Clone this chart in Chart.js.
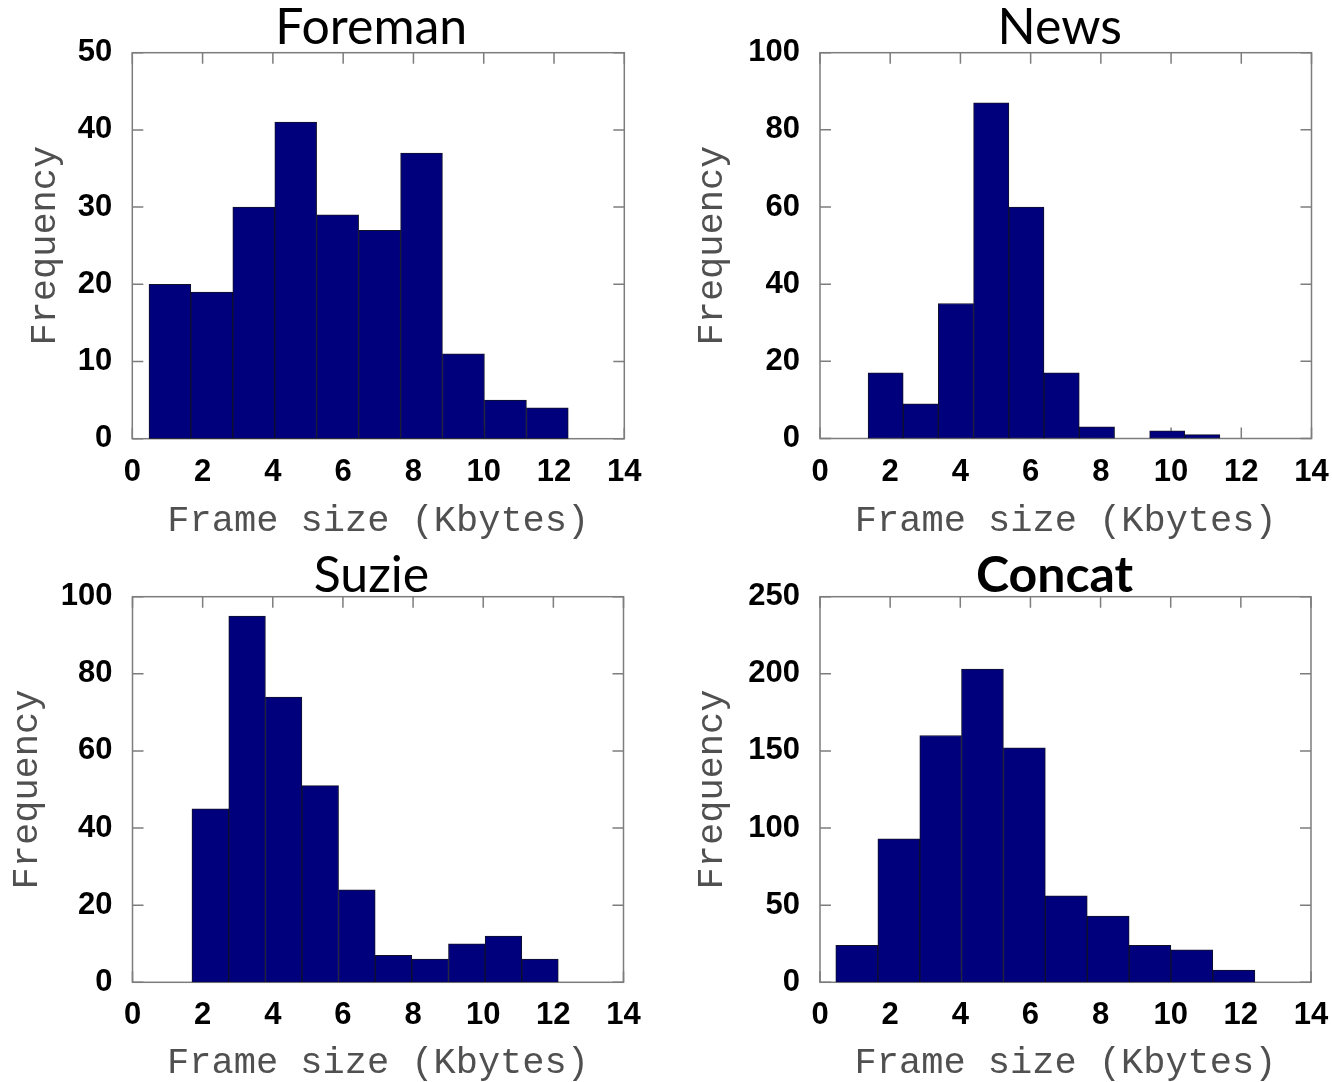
<!DOCTYPE html>
<html>
<head>
<meta charset="utf-8">
<script src="https://cdn.jsdelivr.net/npm/chart.js@4.4.1/dist/chart.umd.min.js"></script>
<style>
  html, body { margin: 0; padding: 0; background: #fff; }
  body { width: 1332px; height: 1082px; position: relative; overflow: hidden; }
  canvas { position: absolute; }
</style>
</head>
<body>
<canvas id="foreman" width="666" height="545" style="left:0;top:0"></canvas>
<canvas id="news" width="666" height="545" style="left:666px;top:0"></canvas>
<canvas id="suzie" width="666" height="545" style="left:0;top:545px"></canvas>
<canvas id="concat" width="666" height="545" style="left:666px;top:545px"></canvas>
<script>
// bin centres (Kbytes) and counts
const foremanBins = [1.07, 2.26, 3.46, 4.65, 5.84, 7.04, 8.23, 9.42, 10.62, 11.81];
const foremanCounts = [20, 19, 30, 41, 29, 27, 37, 11, 5, 4];

const newsBins = [1.87, 2.87, 3.87, 4.88, 5.88, 6.88, 7.89, 8.89, 9.89, 10.89];
const newsCounts = [17, 9, 35, 87, 60, 17, 3, 0, 2, 1];

const suzieBins = [2.22, 3.27, 4.31, 5.35, 6.40, 7.44, 8.49, 9.53, 10.58, 11.62];
const suzieCounts = [45, 95, 74, 51, 24, 7, 6, 10, 12, 6];

const concatBins = [1.05, 2.25, 3.44, 4.63, 5.83, 7.02, 8.22, 9.41, 10.60, 11.80];
const concatCounts = [24, 93, 160, 203, 152, 56, 43, 24, 21, 8];

const xRange = [0, 14];
const xStep = 2;
const yMaxes = { foreman: 50, news: 100, suzie: 100, concat: 250 };
const ySteps = { foreman: 10, news: 20, suzie: 20, concat: 50 };

const xLabel = 'Frame size (Kbytes)';
const yLabel = 'Frequency';

const tickFont = { family: 'Liberation Sans', weight: 'bold', size: 31 };

// frame box with inward ticks on all four sides (matlab look)
const boxTicks = {
  id: 'boxTicks',
  beforeDatasetsDraw(chart) {
    const { ctx, chartArea: a, scales: { x, y } } = chart;
    const len = 11;
    ctx.save();
    ctx.strokeStyle = '#7d7d7d';
    ctx.lineWidth = 1.5;
    ctx.beginPath();
    x.ticks.forEach(t => {
      const px = x.getPixelForValue(t.value);
      ctx.moveTo(px, a.bottom); ctx.lineTo(px, a.bottom - len);
      ctx.moveTo(px, a.top); ctx.lineTo(px, a.top + len);
    });
    y.ticks.forEach(t => {
      const py = y.getPixelForValue(t.value);
      ctx.moveTo(a.left, py); ctx.lineTo(a.left + len, py);
      ctx.moveTo(a.right, py); ctx.lineTo(a.right - len, py);
    });
    ctx.stroke();
    ctx.strokeRect(a.left, a.top, a.right - a.left, a.bottom - a.top);
    ctx.restore();
  }
};

const panelTitle = {
  id: 'panelTitle',
  afterDraw(chart, args, opts) {
    const { ctx, chartArea } = chart;
    ctx.save();
    ctx.font = opts.font;
    ctx.fillStyle = '#000';
    ctx.textAlign = 'center';
    ctx.textBaseline = 'alphabetic';
    ctx.fillText(opts.text, (chartArea.left + chartArea.right) / 2 + opts.shift, opts.baseline);
    ctx.restore();
  }
};

function drawHist(id, title, bins, counts, p) {
  const canvas = document.getElementById(id);
  const W = canvas.width, H = canvas.height;
  new Chart(canvas, {
    type: 'bar',
    data: {
      datasets: [{
        data: bins.map((b, i) => ({ x: b, y: counts[i] })),
        backgroundColor: '#00007c',
        borderColor: '#10102a',
        borderWidth: 1,
        borderSkipped: false,
        barThickness: 'flex',
        barPercentage: 1,
        categoryPercentage: 1
      }]
    },
    options: {
      responsive: false,
      animation: false,
      layout: { padding: { left: 0, top: p.top, right: W - p.right, bottom: 0 } },
      plugins: {
        legend: { display: false },
        tooltip: { enabled: false },
        panelTitle: { text: title, font: p.titleFont, shift: p.shift, baseline: p.baseline }
      },
      scales: {
        x: {
          type: 'linear',
          offset: false,
          min: xRange[0],
          max: xRange[1],
          grid: { display: false, drawTicks: false },
          border: { display: false },
          ticks: {
            stepSize: xStep,
            padding: 15,
            color: '#000',
            maxRotation: 0,
            font: tickFont
          },
          title: {
            display: true,
            text: xLabel,
            color: '#505050',
            padding: { top: 0, bottom: p.xTitlePad },
            font: { family: 'Liberation Mono', size: 37 }
          },
          afterFit: s => {
            s.height = H - p.bottom;
            s.paddingLeft = 0;
            s.paddingRight = 0;
          }
        },
        y: {
          min: 0,
          max: yMaxes[id],
          grid: { display: false, drawTicks: false },
          border: { display: false },
          ticks: {
            stepSize: ySteps[id],
            padding: 20,
            color: '#000',
            font: tickFont
          },
          title: {
            display: true,
            text: yLabel,
            color: '#505050',
            padding: { top: p.yTitlePad, bottom: 0 },
            font: { family: 'Liberation Mono', size: 37 }
          },
          afterFit: s => { s.width = p.left; }
        }
      }
    },
    plugins: [boxTicks, panelTitle]
  });
}

drawHist('foreman', 'Foreman', foremanBins, foremanCounts,
  { left: 132.3, right: 624.3, top: 52.7, bottom: 438.7, yTitlePad: 23, xTitlePad: 2,
    titleFont: '50px Lato', shift: -7, baseline: 44 });
drawHist('news', 'News', newsBins, newsCounts,
  { left: 154, right: 645.5, top: 52.7, bottom: 438.5, yTitlePad: 24, xTitlePad: 2,
    titleFont: '50px Lato', shift: -6, baseline: 44 });
drawHist('suzie', 'Suzie', suzieBins, suzieCounts,
  { left: 132.5, right: 623.5, top: 51.7, bottom: 437.3, yTitlePad: 5, xTitlePad: 5,
    titleFont: '50px Lato', shift: -6.5, baseline: 47 });
drawHist('concat', 'Concat', concatBins, concatCounts,
  { left: 154, right: 645, top: 51.7, bottom: 437.3, yTitlePad: 24, xTitlePad: 5,
    titleFont: 'bold 50px Lato', shift: -11, baseline: 47 });
</script>
</body>
</html>
